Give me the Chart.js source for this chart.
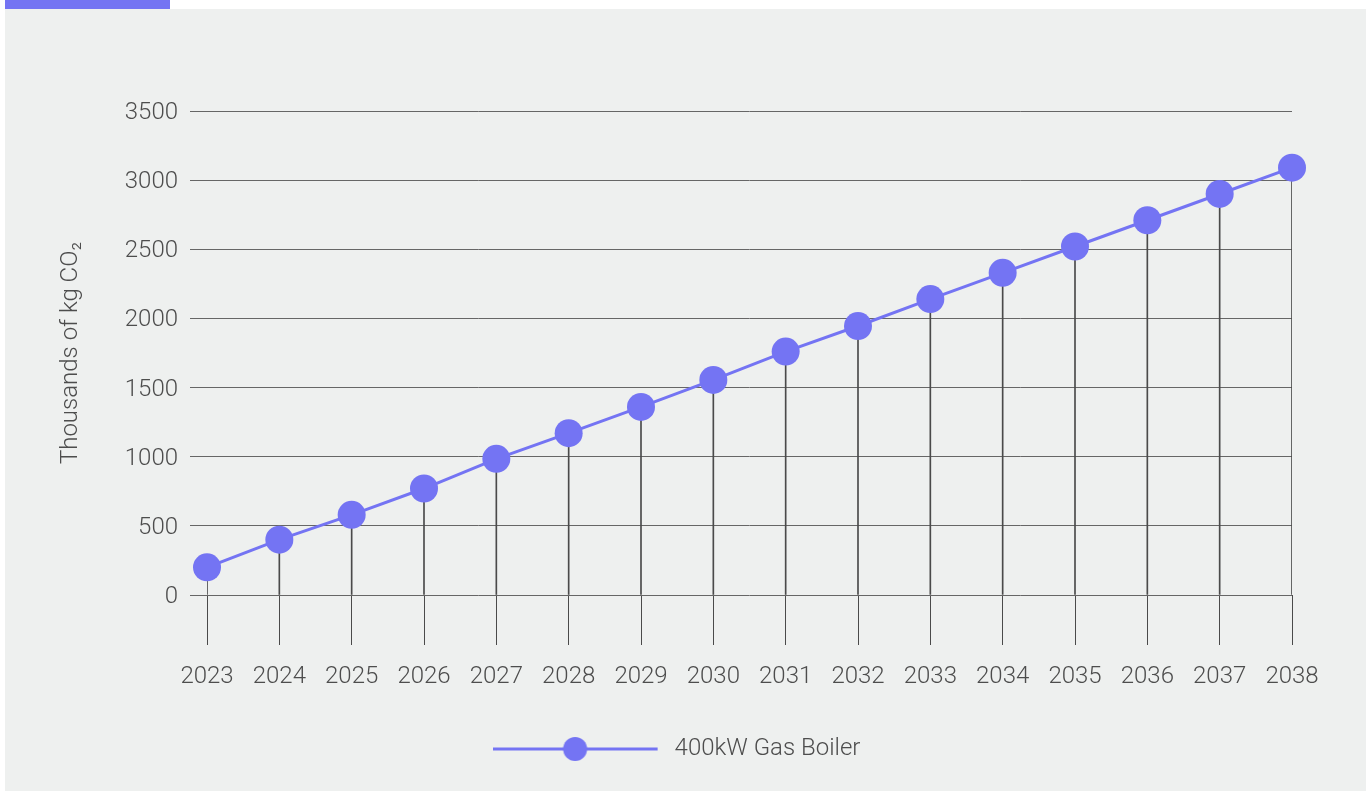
<!DOCTYPE html>
<html>
<head>
<meta charset="utf-8">
<script src="https://cdn.jsdelivr.net/npm/chart.js@4.4.0/dist/chart.umd.min.js"></script>
<style>
  html, body { margin: 0; padding: 0; background: #ffffff; }
  .tab { position: absolute; left: 5px; top: 0; width: 165px; height: 9px; background: #7474f3; }
  .panel { position: absolute; left: 5px; top: 9px; width: 1361px; height: 782px; background: #eef0ef; }
</style>
</head>
<body>
<div class="tab"></div>
<div class="panel"><canvas id="myChart" width="1361" height="782"></canvas></div>
<script>
const years = ["2023", "2024", "2025", "2026", "2027", "2028", "2029", "2030",
               "2031", "2032", "2033", "2034", "2035", "2036", "2037", "2038"];
const gasBoiler = [200, 400, 580, 770, 985, 1170, 1360, 1555,
                   1760, 1945, 2140, 2330, 2520, 2710, 2900, 3090];
const yTicks = [0, 500, 1000, 1500, 2000, 2500, 3000, 3500];

const PURPLE = "#7474f3";
const TEXT = "#4d4d4d";
const FONT = "Roboto, 'Open Sans', sans-serif";

// legend swatch: a line with a dot on it
function legendSwatch() {
  const c = document.createElement("canvas");
  c.width = 170;
  c.height = 30;
  const g = c.getContext("2d");
  g.strokeStyle = PURPLE;
  g.lineWidth = 3;
  g.beginPath();
  g.moveTo(0, 15);
  g.lineTo(165, 15);
  g.stroke();
  g.fillStyle = PURPLE;
  g.beginPath();
  g.arc(82.5, 15, 12, 0, Math.PI * 2);
  g.fill();
  return c;
}
const swatch = legendSwatch();

new Chart(document.getElementById("myChart"), {
  data: {
    labels: years,
    datasets: [
      {
        type: "line",
        label: "400kW Gas Boiler",
        data: gasBoiler,
        borderColor: PURPLE,
        backgroundColor: PURPLE,
        borderWidth: 3,
        pointRadius: 14,
        pointHoverRadius: 14,
        pointBorderWidth: 0,
        pointBackgroundColor: PURPLE,
        clip: false,
        order: 1
      },
      {
        // drop lines from each point to the axis
        type: "bar",
        label: "drop",
        data: gasBoiler.map(v => [0, v]),
        backgroundColor: "#4a4a4a",
        barThickness: 1,
        order: 2
      }
    ]
  },
  options: {
    responsive: false,
    animation: false,
    layout: { padding: { left: 56, right: 74, top: 102, bottom: 20 } },
    plugins: {
      tooltip: { enabled: false },
      legend: {
        position: "bottom",
        labels: {
          usePointStyle: true,
          pointStyle: swatch,
          pointStyleWidth: 170,
          generateLabels: chart => [{
            text: chart.data.datasets[0].label,
            pointStyle: swatch,
            fontColor: TEXT,
            datasetIndex: 0,
            lineWidth: 0
          }],
          color: TEXT,
          padding: 10,
          font: { family: FONT, size: 24, weight: 300 }
        }
      }
    },
    scales: {
      x: {
        offset: false,
        grid: {
          offset: false,
          drawOnChartArea: false,
          drawTicks: true,
          tickLength: 50,
          color: "#4a4a4a"
        },
        border: { display: false },
        ticks: {
          color: TEXT,
          padding: 18,
          maxRotation: 0,
          font: { family: FONT, size: 24, weight: 300 }
        },
        afterFit: scale => { scale.height = 132; }
      },
      y: {
        min: 0,
        max: 3500,
        afterBuildTicks: scale => { scale.ticks = yTicks.map(v => ({ value: v })); },
        grid: { color: "#666666", tickLength: 17, drawTicks: true },
        border: { display: false },
        ticks: {
          color: TEXT,
          padding: 12,
          labelOffset: 2,
          callback: v => String(v),
          font: { family: FONT, size: 24, weight: 300 }
        },
        title: {
          display: true,
          text: "Thousands of kg CO₂",
          color: TEXT,
          padding: { top: -4, bottom: 0 },
          font: { family: FONT, size: 24, weight: 300 }
        },
        afterFit: scale => { scale.width = 146; }
      }
    }
  }
});
</script>
</body>
</html>
